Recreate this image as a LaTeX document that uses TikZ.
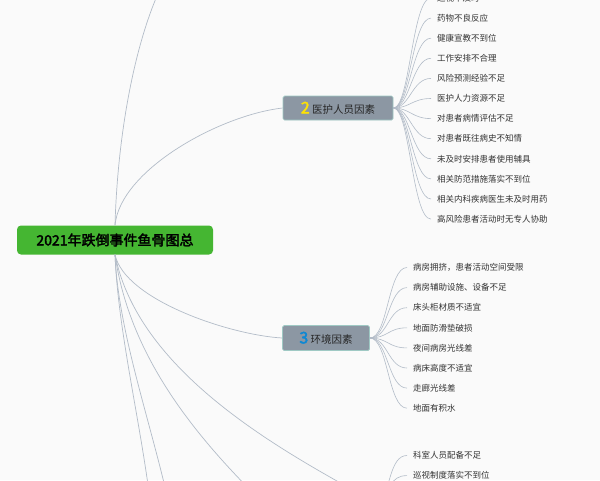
\documentclass[tikz,border=0pt]{standalone}
\usepackage{fontspec}
\newfontfamily\cjk{Noto Sans CJK SC}
\newfontfamily\cjkb[FakeBold=2.5]{Noto Sans CJK SC}
\newcommand{\catnum}[2]{{\cjkb\fontsize{16}{16}\selectfont\textcolor{#1}{#2}}}
\definecolor{lnc}{HTML}{B3BCC8}
\definecolor{catf}{HTML}{8C97A3}
\definecolor{catd}{HTML}{9FC9C4}
\definecolor{rootf}{HTML}{45B632}
\begin{document}
\begin{tikzpicture}[x=1pt,y=-1pt,
  leaf/.style={anchor=west,font=\cjk\fontsize{8.5}{10}\selectfont,text=black!80,inner sep=0},
  br/.style={draw=lnc,line width=0.7pt},
  lk/.style={draw=lnc,line width=0.6pt},
  cat/.style={draw=catd,fill=catf,rounded corners=1.5pt,line width=0.7pt,inner xsep=5pt,minimum height=24pt,font=\cjk\fontsize{10.5}{13}\selectfont,text=black!85}]
\fill[black!2] (0,0) rectangle (600,480);
\useasboundingbox (0,0) rectangle (600,480);
\clip (0,0) rectangle (600,480);
\node[fill=rootf,rounded corners=4pt,minimum width=196pt,minimum height=29pt,font=\cjkb\fontsize{14}{16}\selectfont] (root) at (115,240) {2021年跌倒事件鱼骨图总};
\node[cat,minimum width=110pt] (c2) at (338,108) {\catnum{yellow!85!orange}{2} 医护人员因素};
\node[cat,minimum width=87pt,minimum height=25pt] (c3) at (326,338) {\catnum{cyan!70!blue}{3} 环境因素};
\coordinate (c1) at (170,-30);
\coordinate (c4) at (380,505);
\coordinate (e1) at (150,500);
\coordinate (e2) at (168,500);
\coordinate (e3) at (260,500);
% main branches
\draw[br] (root.north) .. controls (118,120) and (140,20) .. (c1);
\draw[br] (root.north) .. controls (120,170) and (220,115) .. (c2.west);
\draw[br] (root.south) .. controls (125,300) and (230,335) .. (c3.west);
\draw[br] (root.south) .. controls (118,330) and (140,420) .. (e1);
\draw[br] (root.south) .. controls (118,330) and (150,420) .. (e2);
\draw[br] (root.south) .. controls (130,360) and (200,440) .. (e3);
\draw[br] (root.south) .. controls (140,380) and (300,460) .. (c4);
% leaves of 2
\foreach \t [count=\i from 0] in {巡视不及时,药物不良反应,健康宣教不到位,工作安排不合理,风险预测经验不足,医护人力资源不足,对患者病情评估不足,对患者既往病史不知情,未及时安排患者使用辅具,相关防范措施落实不到位,相关内科疾病医生未及时用药,高风险患者活动时无专人协助}{
  \node[leaf] (a\i) at (437,{-2+20.1*\i}) {\t};
  \draw[lk] (c2.east) .. controls (410,108) and (412,{-2+20.1*\i}) .. ([xshift=-6pt]a\i.west);
}
\foreach \t [count=\i from 0] in {病房拥挤，患者活动空间受限,病房辅助设施、设备不足,床头柜材质不适宜,地面防滑垫破损,夜间病房光线差,病床高度不适宜,走廊光线差,地面有积水}{
  \node[leaf] (b\i) at (413,{267.5+20.1*\i}) {\t};
  \draw[lk] (c3.east) .. controls (388,338) and (388,{267.5+20.1*\i}) .. ([xshift=-6pt]b\i.west);
}
\foreach \t [count=\i from 0] in {科室人员配备不足,巡视制度落实不到位}{
  \node[leaf] (d\i) at (413,{455.5+20.1*\i}) {\t};
  \draw[lk] (c4) .. controls (390,490) and (390,{455.5+20.1*\i}) .. ([xshift=-6pt]d\i.west);
}
\end{tikzpicture}
\end{document}
